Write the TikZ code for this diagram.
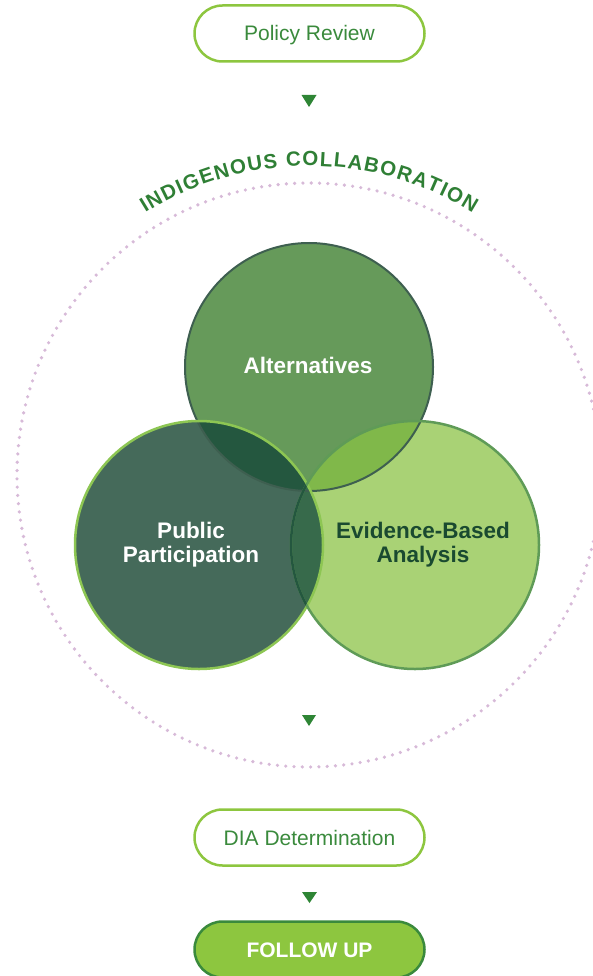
\documentclass[tikz,border=0pt]{standalone}
\usepackage{fontspec}
\setmainfont{Liberation Sans}
\usetikzlibrary{decorations.text}

\definecolor{leaf}{HTML}{8DC63F}
\definecolor{forest}{HTML}{3A8A3C}
\definecolor{tipgreen}{HTML}{2E8535}
\definecolor{dotpink}{HTML}{D7BAD8}
\definecolor{altfill}{HTML}{669A5A}
\definecolor{altline}{HTML}{3E5F50}
\definecolor{pubfill}{HTML}{456A5A}
\definecolor{publine}{HTML}{8DC653}
\definecolor{evifill}{HTML}{A9D275}
\definecolor{eviline}{HTML}{5F9B57}
\definecolor{altpub}{HTML}{24573F}
\definecolor{altevi}{HTML}{80B84A}
\definecolor{pubevi}{HTML}{376A4B}
\definecolor{evitext}{HTML}{1A4A30}
\definecolor{ringtext}{HTML}{2F7F35}

\tikzset{
  pill/.style={draw=leaf, line width=2.5pt, rounded corners=28pt,
    minimum width=230pt, minimum height=56pt, text=forest,
    text height=15pt, text depth=0pt,
    font=\fontsize{21}{24}\selectfont},
  pillfull/.style={pill, fill=leaf, draw=forest, text=white,
    font=\bfseries\fontsize{21}{24}\selectfont},
  tip/.style={fill=tipgreen},
  dotring/.style={draw=dotpink, line width=3.6pt, line cap=round,
    dash pattern=on 0pt off 8.3pt},
  venn/.style={text=white, align=center,
    font=\bfseries\fontsize{22.5}{24}\selectfont}
}

\begin{document}
\begin{tikzpicture}[x=1pt,y=1pt]
		\useasboundingbox (0,0) rectangle (593,-976);
		
		\coordinate (mid) at (309,-475);
		\coordinate (altc) at (309,-367);
		\coordinate (pubc) at (199,-545);
		\coordinate (evic) at (415,-545);
		
		% steps
		\node[pill] (review) at (309.5,-33.5) {Policy Review};
		\node[pill] (dia) at (309.5,-837.5) {DIA Determination};
		\node[pillfull] (follow) at (309.5,-949.5) {FOLLOW UP};
		
		\fill[tip] (301.5,-95) -- (316.5,-95) -- (309,-107) -- cycle;
		\fill[tip] (302,-715) -- (316,-715) -- (309,-726) -- cycle;
		\fill[tip] (302,-892) -- (317,-892) -- (309.5,-903) -- cycle;
		
		% collaboration ring
		\draw[dotring] (mid) circle (292);
		\path[decorate, decoration={text along path, text align={fit to path},
		  text={|\bfseries\fontsize{20.5}{20}\selectfont\color{ringtext}|INDIGENOUS COLLABORATION}}]
		  (mid) ++(122:309) arc[start angle=122, end angle=58, radius=309];
		
		% circles
		\fill[altfill] (altc) circle (124);
		\fill[pubfill] (pubc) circle (124);
		\fill[evifill] (evic) circle (124);
		\begin{scope}
			\clip (altc) circle (124);
			\fill[altpub] (pubc) circle (124);
			\fill[altevi] (evic) circle (124);
		\end{scope}
		\begin{scope}
			\clip (pubc) circle (124);
			\fill[pubevi] (evic) circle (124);
		\end{scope}
		\draw[altline, line width=2pt] (altc) circle (124);
		\draw[publine, line width=2.5pt] (pubc) circle (124);
		\draw[eviline, line width=2.5pt] (evic) circle (124);
		\begin{scope}
			\clip (pubc) circle (122.5);
			\draw[altpub, line width=2.5pt] (evic) circle (124);
		\end{scope}
		
		\node[venn] (alt) at (308,-365) {Alternatives};
		\node[venn] (pub) at (191,-545) {Public\\Participation};
		\node[venn, text=evitext] (evi) at (423,-545) {Evidence-Based\\Analysis};
		
		\end{tikzpicture}
\end{document}
